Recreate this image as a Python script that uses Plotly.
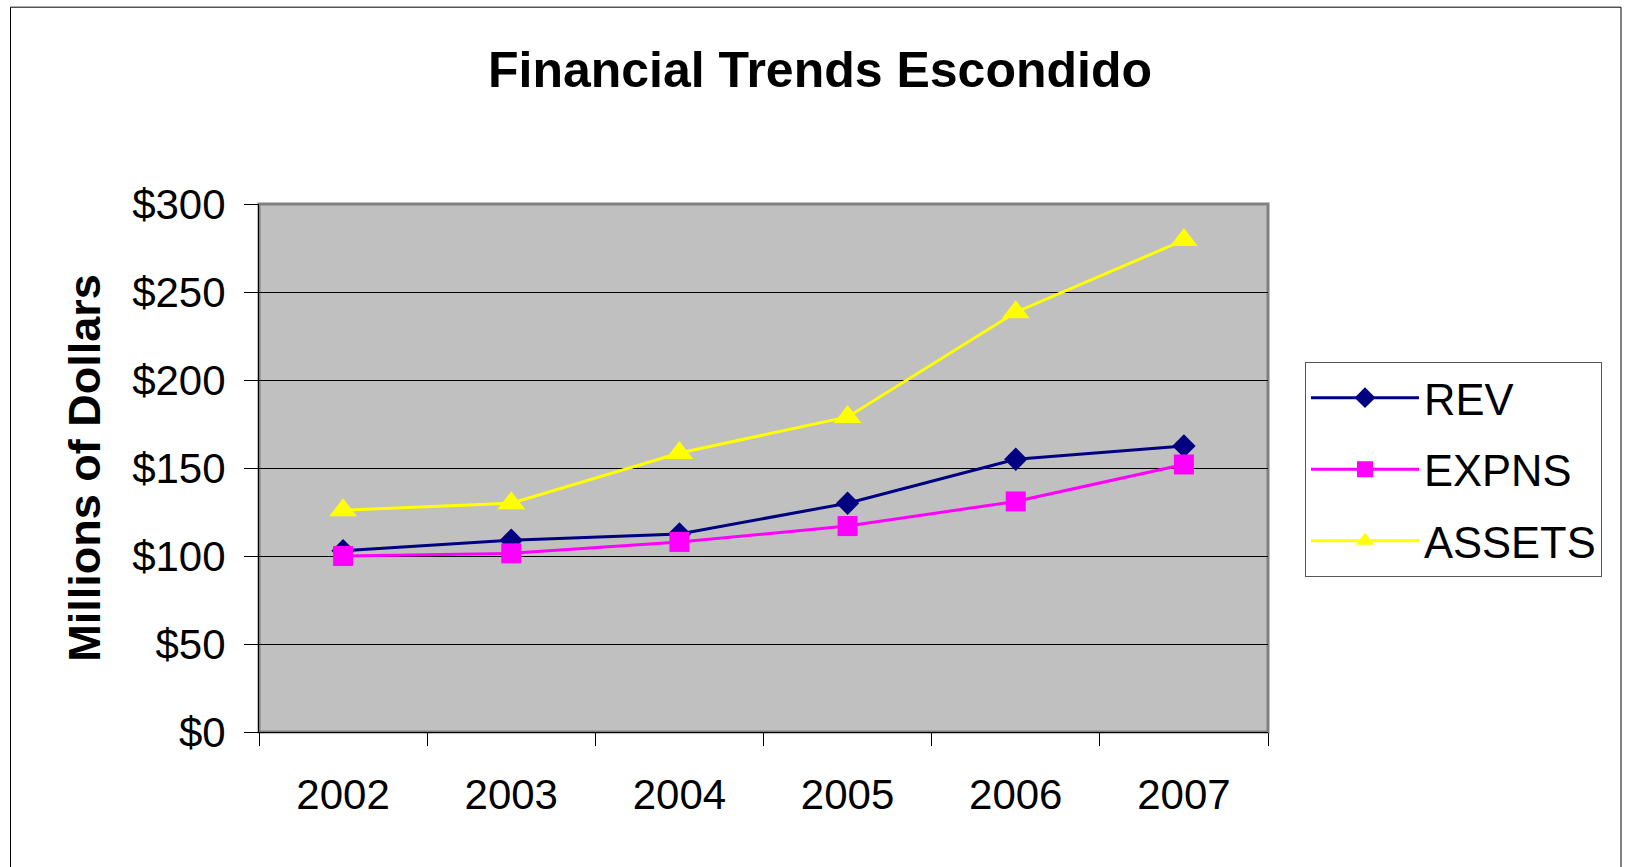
import plotly.graph_objects as go

years = ["2002", "2003", "2004", "2005", "2006", "2007"]
rev = [103, 109, 112.5, 130, 155, 162.5]
expns = [100, 101.5, 108, 117, 131, 152]
assets = [126, 130, 158.5, 179, 238.5, 279.5]
y_ticks = [0, 50, 100, 150, 200, 250, 300]
y_ticktext = ["$0", "$50", "$100", "$150", "$200", "$250", "$300"]

W, H = 1627, 867
L, R, T, B = 259, 1268, 204, 732.5
PW, PH = R - L, B - T


def px_x(x):
    return (x - L) / PW


def px_y(y):
    return (B - y) / PH


FONT = "Liberation Sans, Arial, sans-serif"

fig = go.Figure()
fig.add_trace(go.Scatter(x=years, y=rev, name="REV", mode="lines+markers",
                         line=dict(color="#000080", width=3),
                         marker=dict(symbol="diamond", size=18, color="#000080")))
fig.add_trace(go.Scatter(x=years, y=expns, name="EXPNS", mode="lines+markers",
                         line=dict(color="#FF00FF", width=3),
                         marker=dict(symbol="square", size=20, color="#FF00FF")))
fig.add_trace(go.Scatter(x=years, y=assets, name="ASSETS", mode="lines+markers",
                         line=dict(color="#FFFF00", width=3),
                         marker=dict(symbol="triangle-up", size=24, color="#FFFF00")))

fig.update_layout(
    width=W, height=H,
    margin=dict(l=L, r=W - R, t=T, b=H - B, pad=0),
    paper_bgcolor="white",
    plot_bgcolor="#C0C0C0",
    font=dict(family=FONT, size=42, color="black"),
    title=dict(text="<b>Financial Trends Escondido</b>", x=820 / W, xanchor="center",
               xref="container", y=1 - 69 / H, yanchor="middle", yref="container",
               font=dict(family=FONT, size=50, color="black")),
    showlegend=True,
    legend=dict(x=px_x(1305), y=px_y(362), xanchor="left", yanchor="top",
                bgcolor="white", bordercolor="#555555", borderwidth=1,
                font=dict(family=FONT, size=43.5, color="black"),
                itemwidth=108, tracegroupgap=12),
    xaxis=dict(type="category", range=[-0.5, 5.5], showgrid=False,
               showline=True, linecolor="black", linewidth=1,
               ticks="outside", tickson="boundaries", ticklen=13, tickcolor="black",
               tickwidth=1, ticklabelstandoff=26, zeroline=False,
               tickfont=dict(family=FONT, size=42, color="black")),
    yaxis=dict(range=[0, 300], tickvals=y_ticks, ticktext=y_ticktext,
               showgrid=True, gridcolor="black", gridwidth=1,
               showline=True, linecolor="black", linewidth=1,
               ticks="outside", ticklen=14, tickcolor="black", tickwidth=1,
               ticklabelstandoff=10, zeroline=False,
               tickfont=dict(family=FONT, size=42, color="black")),
)

for i, tr in enumerate(fig.data):
    tr.legendgroup = "g%d" % i

fig.add_annotation(text="<b>Millions of Dollars</b>", textangle=-90,
                   xref="paper", yref="paper", x=px_x(85), y=px_y(468),
                   xanchor="center", yanchor="middle", showarrow=False,
                   font=dict(family=FONT, size=45, color="black"))

# plot-area border
fig.add_shape(type="rect", xref="x domain", yref="y domain", x0=0, x1=1, y0=0, y1=1,
              line=dict(color="#808080", width=3), layer="below")
# chart outer border
fig.add_shape(type="rect", xref="paper", yref="paper",
              x0=px_x(10.5), x1=px_x(1621), y0=px_y(7), y1=px_y(900),
              line=dict(color="black", width=1), fillcolor="rgba(0,0,0,0)", layer="below")

fig.write_html("out.html", config={"displayModeBar": False},
               post_script="document.body.style.margin='0';")
